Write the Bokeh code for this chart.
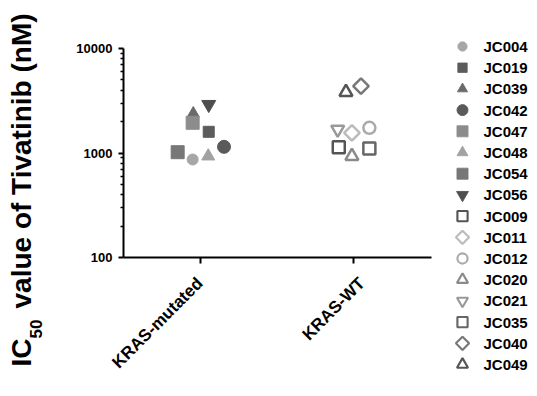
from math import pi
from bokeh.plotting import figure
from bokeh.models import (ColumnDataSource, Range1d, FixedTicker, CustomJSTickFormatter,
                          LinearScale)
from bokeh.embed import file_html
from bokeh.resources import INLINE
from bokeh.core.properties import value

# ---------------- data ----------------
categories = ["KRAS-mutated", "KRAS-WT"]
cell_lines = ["JC004", "JC019", "JC039", "JC042", "JC047", "JC048", "JC054", "JC056",
              "JC009", "JC011", "JC012", "JC020", "JC021", "JC035", "JC040", "JC049"]
group = ["KRAS-mutated"] * 8 + ["KRAS-WT"] * 8
ic50_nM = [867, 1595, 2390, 1146, 1945, 932, 1018, 2911,
           1137, 1560, 1742, 931, 1679, 1104, 4365, 3818]
x_jitter = [-0.048, 0.057, -0.044, 0.157, -0.048, 0.054, -0.146, 0.057,
            -0.093, -0.007, 0.107, -0.007, -0.100, 0.107, 0.052, -0.046]
y_ticks = [100, 1000, 10000]
y_tick_labels = ["100", "1000", "10000"]
y_minor = [m * 10 ** e for e in (2, 3) for m in range(2, 10)]
title_parts = ["IC", "50", "value of Tivatinib (nM)"]

# ---------------- styles / layout ----------------
FONT = "Liberation Sans"
markers = ["circle", "square", "triangle", "circle", "square", "triangle", "square", "inverted_triangle",
           "square", "square", "circle", "triangle", "inverted_triangle", "square", "square", "triangle"]
angles = [0] * 9 + [pi / 4] + [0] * 4 + [pi / 4] + [0]
sizes = [11, 11, 12, 13, 13, 13, 13, 14,
         12, 11, 12, 13, 13, 12, 11, 13]
colors = ["#a6a6a6", "#5c5c5c", "#6a6a6a", "#5a5a5a", "#8c8c8c", "#a2a2a2", "#777777", "#4e4e4e",
          "#555555", "#bbbbbb", "#aaaaaa", "#8a8a8a", "#999999", "#666666", "#777777", "#555555"]
filled = [True] * 8 + [False] * 8
fill_alpha = [1.0 if f else 0.0 for f in filled]
line_w = [1.0 if f else 2.5 for f in filled]

W, H = 529, 380
AX_X, PX_PER_CAT = 123, 153      # canvas x of the y axis, px per category
Y_TOP_PX, DECADE_PX = 48, 104.5  # canvas y of 10000, px per decade
ROW0_PX, ROW_PX = 46, 21.2       # legend rows
x_lo = -0.5 - AX_X / PX_PER_CAT
x_hi = -0.5 + (W - AX_X) / PX_PER_CAT
y_hi = 10 ** (4 + Y_TOP_PX / DECADE_PX)
y_lo = 10 ** (4 - (H - Y_TOP_PX) / DECADE_PX)

cat_pos = [categories.index(g) for g in group]
src = ColumnDataSource(dict(
    x=[c + j for c, j in zip(cat_pos, x_jitter)],
    y=ic50_nM, marker=markers, angle=angles, size=sizes,
    color=colors, fa=fill_alpha, lw=line_w, name=cell_lines,
))

p = figure(width=W, height=H, x_range=Range1d(x_lo, x_hi),
           y_range=Range1d(y_lo, y_hi), y_axis_type="log",
           x_axis_location="above", y_axis_location="right",
           output_backend="svg", toolbar_location=None,
           min_border_left=0, min_border_right=0, min_border_top=0, min_border_bottom=0)
p.outline_line_color = None
p.xgrid.grid_line_color = None
p.ygrid.grid_line_color = None
p.extra_x_ranges = {"px": Range1d(0, W)}
p.extra_y_ranges = {"px": Range1d(H, 0),
                    "leg": Range1d((H - ROW0_PX) / ROW_PX, -ROW0_PX / ROW_PX)}
p.extra_y_scales = {"px": LinearScale(), "leg": LinearScale()}

p.scatter(x="x", y="y", marker="marker", angle="angle", size="size",
          fill_color="color", fill_alpha="fa", line_color="color", line_width="lw",
          source=src)

blank = CustomJSTickFormatter(code="return ''")

# x axis: line at y=100 with downward ticks; category names as rotated texts
xa = p.xaxis[0]
xa.fixed_location = y_ticks[0]
xa.bounds = (-0.5, 1.51)
xa.ticker = FixedTicker(ticks=list(range(len(categories))), minor_ticks=[])
xa.formatter = blank
xa.axis_line_width = 2
xa.major_tick_line_width = 2
xa.major_tick_out = 0
xa.major_tick_in = 6
xa.minor_tick_out = 0
xa.minor_tick_in = 0
xa.major_label_standoff = 0
xa.major_label_text_font_size = "1px"

p.text(x=list(range(len(categories))), y=[y_ticks[0]] * len(categories), text=categories,
       angle=pi / 4, x_offset=[0, 9], y_offset=23,
       text_align="right", text_baseline="alphabetic",
       text_font=value(FONT), text_font_style="bold", text_font_size="17px", text_color="black")

# y axis: line at x=-0.5 with leftward ticks; tick labels as texts
ya = p.yaxis[0]
ya.fixed_location = -0.5
ya.bounds = (y_ticks[0], y_ticks[-1])
ya.ticker = FixedTicker(ticks=y_ticks, minor_ticks=y_minor)
ya.formatter = blank
ya.axis_line_width = 2
ya.major_tick_line_width = 2
ya.major_tick_out = 0
ya.major_tick_in = 5
ya.minor_tick_line_width = 1.5
ya.minor_tick_out = 0
ya.minor_tick_in = 3
ya.major_label_standoff = 0
ya.major_label_text_font_size = "1px"

p.text(x=[-0.5] * len(y_ticks), y=y_ticks, text=y_tick_labels, x_offset=-11,
       text_align="right", text_baseline="middle",
       text_font=value(FONT), text_font_style="bold", text_font_size="13px", text_color="black")

# y title with subscript (positions in canvas pixels)
p.text(x=[21, 35, 21], y=[366, 338, 308], text=title_parts, angle=pi / 2,
       text_font_size=["28px", "17px", "28px"],
       text_align="left", text_baseline="alphabetic",
       text_font=value(FONT), text_font_style="bold", text_color="black",
       x_range_name="px", y_range_name="px")

# legend
lsrc = ColumnDataSource(dict(
    idx=list(range(len(cell_lines))), name=cell_lines, marker=markers, angle=angles,
    size=[s * 0.85 for s in sizes], color=colors, fa=fill_alpha,
    lw=[w * 0.85 for w in line_w],
))
p.scatter(x=462, y="idx", marker="marker", angle="angle", size="size",
          fill_color="color", fill_alpha="fa", line_color="color", line_width="lw",
          source=lsrc, x_range_name="px", y_range_name="leg")
p.text(x=483, y="idx", text="name", text_font=value(FONT), text_font_style="bold",
       text_font_size="15px", text_baseline="middle", text_color="black",
       source=lsrc, x_range_name="px", y_range_name="leg")

open("out.html", "w").write(file_html(p, INLINE))
